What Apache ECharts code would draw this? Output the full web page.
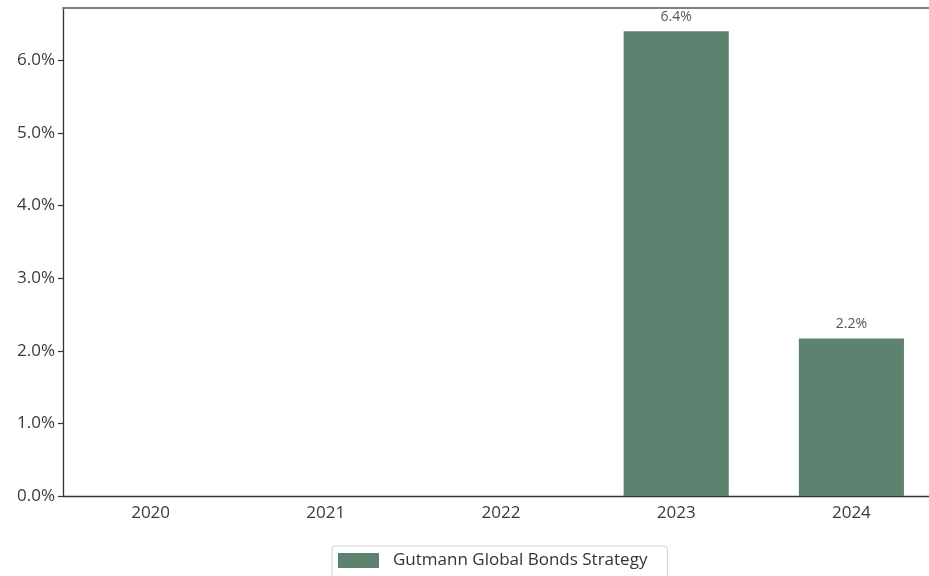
<!DOCTYPE html>
<html><head><meta charset="utf-8">
<script src="https://cdn.jsdelivr.net/npm/echarts@6/dist/echarts.min.js"></script>
<style>html,body{margin:0;padding:0;background:#fff}#c{width:929px;height:576px}</style>
</head><body><div id="c"></div>
<script>
const categories = ['2020','2021','2022','2023','2024'];
const seriesName = 'Gutmann Global Bonds Strategy';
const values = [null, null, null, 6.4, 2.17];
const yTicks = [0,1,2,3,4,5,6];

const chart = echarts.init(document.getElementById('c'));
const font = '"Open Sans", "Noto Sans", sans-serif';
chart.setOption({
  animation: false,
  textStyle: {fontFamily: font},
  grid: {left: 63, width: 876, top: 8, bottom: 80, containLabel: false, outerBoundsMode: 'none'},
  legend: {
    left: 332, top: 546,
    itemWidth: 41, itemHeight: 15,
    padding: [6, 20, 12, 6],
    borderColor: '#d0d0d0', borderWidth: 1, borderRadius: 3,
    icon: 'rect',
    textStyle: {fontSize: 17, color: '#333', fontFamily: font, padding: [0, 0, 0, 9]},
    data: [seriesName]
  },
  xAxis: [{
    type: 'category', data: categories, boundaryGap: true,
    axisLine: {lineStyle: {color: '#333', width: 1.3}},
    axisTick: {alignWithLabel: true, length: 5, lineStyle: {color: '#333', width: 1.2}},
    axisLabel: {fontSize: 17, color: '#3a3a3a', margin: 9, fontFamily: font}
  }, {
    type: 'category', data: categories, position: 'top',
    axisLine: {show: true, lineStyle: {color: '#808080', width: 2}},
    axisTick: {show: false}, axisLabel: {show: false}
  }],
  yAxis: {
    type: 'value', min: 0, max: 6.72, interval: 1,
    splitLine: {show: false},
    axisLine: {show: true, lineStyle: {color: '#333', width: 1.3}},
    axisTick: {show: true, length: 5, customValues: yTicks, lineStyle: {color: '#333', width: 1.2}},
    axisLabel: {fontSize: 17, color: '#3a3a3a', margin: 8, fontFamily: font, customValues: yTicks,
      formatter: v => v.toFixed(1) + '%'}
  },
  series: [{
    name: seriesName, type: 'bar', data: values, barWidth: '60%',
    itemStyle: {color: '#5d8270'},
    label: {show: true, position: 'top', distance: 7, fontSize: 14, color: '#555', fontFamily: font,
      formatter: p => p.value == null ? '' : p.value.toFixed(1) + '%'}
  }]
});
</script></body></html>
